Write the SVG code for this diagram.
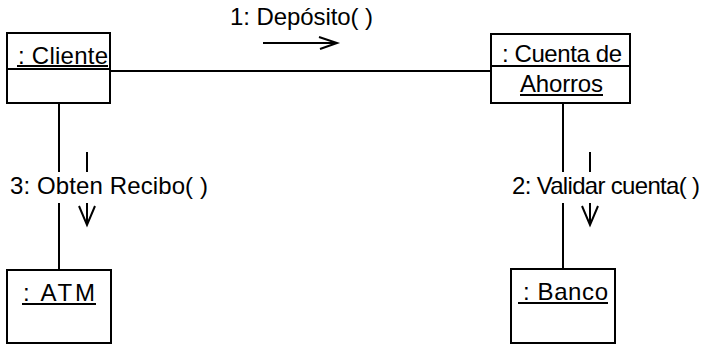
<svg xmlns="http://www.w3.org/2000/svg" width="718" height="345" viewBox="0 0 718 345">
<style>
.box{fill:#fff;stroke:#000;stroke-width:2}
.ln{stroke:#000;stroke-width:2;fill:none}
.t{font-family:"Liberation Sans",Arial,sans-serif;font-size:24px;fill:#000}
</style>
<rect width="718" height="345" fill="#fff"/>
<g id="connectors">
<line class="ln" x1="110" y1="71" x2="491" y2="71"/>
<line class="ln" x1="59" y1="103" x2="59" y2="172"/>
<line class="ln" x1="59" y1="203" x2="59" y2="270"/>
<line class="ln" x1="563" y1="103" x2="563" y2="172"/>
<line class="ln" x1="563" y1="203" x2="563" y2="269"/>
<g id="msg1">
<line class="ln" x1="263" y1="43" x2="337" y2="43"/>
<polyline class="ln" points="319,37 337,43 320,49"/>
<text class="t" x="230" y="25" textLength="143">1: Depósito( )</text>
</g>
<g id="msg3">
<line class="ln" x1="87" y1="152" x2="87" y2="172"/>
<line class="ln" x1="87" y1="203" x2="87" y2="224"/>
<polyline class="ln" points="79,206 87,225 95,206"/>
<text class="t" x="10" y="194" textLength="198">3: Obten Recibo( )</text>
</g>
<g id="msg2">
<line class="ln" x1="590" y1="152" x2="590" y2="172"/>
<line class="ln" x1="590" y1="203" x2="590" y2="224"/>
<polyline class="ln" points="582,206 590,225 598,206"/>
<text class="t" x="512" y="194" textLength="188">2: Validar cuenta( )</text>
</g>
</g>
<g id="cliente">
<rect class="box" x="7" y="33" width="103" height="70"/>
<line class="ln" x1="7" y1="69" x2="110" y2="69"/>
<text class="t" x="18" y="64" textLength="90">: Cliente</text>
<line class="ln" x1="17" y1="66" x2="108" y2="66" stroke-width="1.5"/>
</g>
<g id="cuenta">
<rect class="box" x="491" y="34" width="139" height="69"/>
<text class="t" x="502" y="62" textLength="120">: Cuenta de</text>
<line class="ln" x1="491" y1="66" x2="630" y2="66" stroke-width="1.5"/>
<text class="t" x="520" y="92" textLength="83">Ahorros</text>
<line class="ln" x1="520" y1="95" x2="603" y2="95" stroke-width="1.5"/>
</g>
<g id="atm">
<rect class="box" x="7" y="270" width="104" height="73"/>
<text class="t" x="23" y="301" textLength="72">: ATM</text>
<line class="ln" x1="22" y1="304" x2="96" y2="304" stroke-width="1.5"/>
</g>
<g id="banco">
<rect class="box" x="511" y="269" width="104" height="74"/>
<text class="t" x="523" y="300" textLength="85">: Banco</text>
<line class="ln" x1="518" y1="303" x2="608" y2="303" stroke-width="1.5"/>
</g>
</svg>
